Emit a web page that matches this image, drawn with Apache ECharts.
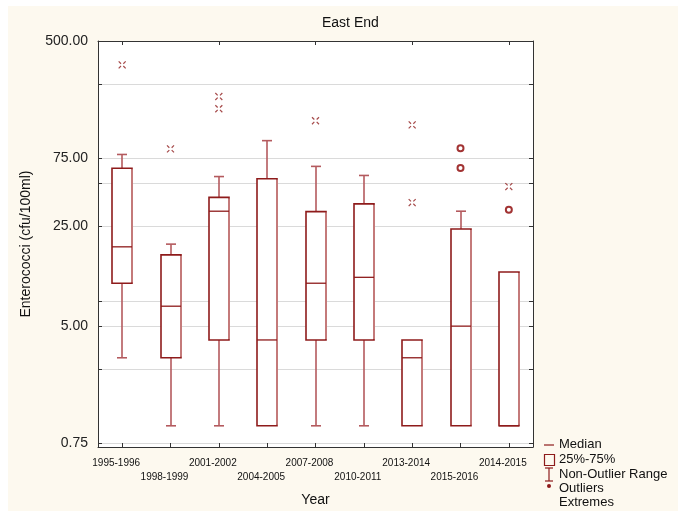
<!DOCTYPE html>
<html>
<head>
<meta charset="utf-8">
<script src="https://cdn.jsdelivr.net/npm/echarts@6/dist/echarts.min.js"></script>
<style>
html,body{margin:0;padding:0;background:#fff;}
#chart{width:678px;height:511px;}
</style>
</head>
<body>
<div id="chart"></div>
<script>
// ---- data ----
var categories = ['1995-1996','1998-1999','2001-2002','2004-2005','2007-2008','2010-2011','2013-2014','2015-2016','2014-2015'];
// [non-outlier min, 25%, median, 75%, non-outlier max]
var boxMin    = [3.0, 1,   1,  1,   1,    1,  1, 1,  1];
var boxQ1     = [10,  3.0, 4,  1,   4,    4,  1, 1,  1];
var boxMedian = [18,  6.9, 32, 4,   10,   11, 3, 5,  1];
var boxQ3     = [64,  15.8,40, 54,  31.8, 36, 4, 24, 12];
var boxMax    = [80,  18.8,56, 100, 66,   57, 4, 32, 12];
// extremes: [category index, value]
var extremeCat = [0,   1,    2,   2,     4,   6,   6,    8];
var extremeVal = [340, 87.5, 204, 167.5, 138, 129, 36.8, 47.6];
// outliers
var outlierCat = [7,    7,    8];
var outlierVal = [88.5, 64.4, 32.7];
var yLabelValues = [0.75, 5, 25, 75, 500];
var yTickValues = [0.75, 2.5, 5, 7.5, 25, 50, 75, 250, 500];
var legendLabels = ['Median', '25%-75%', 'Non-Outlier Range', 'Outliers', 'Extremes'];

var DARK = '#8e1b1b';
var LIGHT = '#c47a7a';
var WHISK = '#b45a5e';
var boxData = categories.map(function (c, i) {
  return [i, boxMin[i], boxQ1[i], boxMedian[i], boxQ3[i], boxMax[i]];
});
var extremeData = extremeCat.map(function (c, i) { return [c, extremeVal[i]]; });
var outlierData = outlierCat.map(function (c, i) { return [c, outlierVal[i]]; });

var FONT = '"Liberation Sans", Arial, sans-serif';

function renderBox(params, api) {
  var i = api.value(0);
  var pMin = api.coord([i, api.value(1)]);
  var pQ1 = api.coord([i, api.value(2)]);
  var pMed = api.coord([i, api.value(3)]);
  var pQ3 = api.coord([i, api.value(4)]);
  var pMax = api.coord([i, api.value(5)]);
  var cx = Math.round(pQ1[0]);
  var hw = 10, cw = 5;
  var ch = [];
  var lw = 1.6;
  if (pMax[1] < pQ3[1] - 0.5) {
    ch.push({type:'line', shape:{x1:cx, y1:pQ3[1], x2:cx, y2:pMax[1]}, style:{stroke:WHISK, lineWidth:lw}});
    ch.push({type:'line', shape:{x1:cx-cw, y1:pMax[1], x2:cx+cw, y2:pMax[1]}, style:{stroke:WHISK, lineWidth:lw}});
  }
  if (pMin[1] > pQ1[1] + 0.5) {
    ch.push({type:'line', shape:{x1:cx, y1:pQ1[1], x2:cx, y2:pMin[1]}, style:{stroke:WHISK, lineWidth:lw}});
    ch.push({type:'line', shape:{x1:cx-cw, y1:pMin[1], x2:cx+cw, y2:pMin[1]}, style:{stroke:WHISK, lineWidth:lw}});
  }
  ch.push({type:'rect', shape:{x:cx-hw, y:pQ3[1], width:2*hw, height:pQ1[1]-pQ3[1]}, style:{fill:'#fff', stroke:DARK, lineWidth:lw}});
  ch.push({type:'line', shape:{x1:cx+hw, y1:pQ3[1]+1, x2:cx+hw, y2:pQ1[1]-1}, style:{stroke:LIGHT, lineWidth:lw+0.4}});
  ch.push({type:'line', shape:{x1:cx-hw, y1:pMed[1], x2:cx+hw, y2:pMed[1]}, style:{stroke:DARK, lineWidth:1.3}});
  return {type:'group', children: ch};
}

var legendY = [444, 459, 474, 488, 502];
var graphics = [
  {type:'rect', silent:true, z:-1, shape:{x:0,y:0,width:8,height:511}, style:{fill:'#fff'}},
  {type:'rect', silent:true, z:-1, shape:{x:0,y:0,width:678,height:6}, style:{fill:'#fff'}},
  {type:'line', shape:{x1:544,y1:445,x2:554,y2:445}, style:{stroke:DARK, lineWidth:1.2}},
  {type:'rect', shape:{x:544.5,y:454.5,width:10,height:11}, style:{fill:'none', stroke:DARK, lineWidth:1.2}},
  {type:'line', shape:{x1:549,y1:468,x2:549,y2:481}, style:{stroke:DARK, lineWidth:1.2}},
  {type:'line', shape:{x1:545,y1:468,x2:553,y2:468}, style:{stroke:DARK, lineWidth:1.2}},
  {type:'line', shape:{x1:545,y1:481,x2:553,y2:481}, style:{stroke:DARK, lineWidth:1.2}},
  {type:'circle', shape:{cx:549,cy:486,r:2}, style:{fill:DARK}}
];
legendLabels.forEach(function (t, i) {
  graphics.push({type:'text', x:559, y:legendY[i], style:{text:t, font:'13px ' + FONT, fill:'#111', verticalAlign:'middle', align:'left'}});
});

var chart = echarts.init(document.getElementById('chart'));
chart.setOption({
  backgroundColor: '#fdf9ef',
  animation: false,
  title: {
    text: 'East End', left: 322, top: 16, padding: 0,
    textStyle: {fontFamily: FONT, fontSize: 14, fontWeight: 'normal', color: '#111'}
  },
  graphic: graphics,
  grid: {left: 98, right: 145, top: 41, bottom: 64, show: true, backgroundColor: '#fff', borderWidth: 0,
    containLabel: false, outerBoundsMode: 'none'},
  xAxis: [{
    type: 'category', data: categories, boundaryGap: true,
    name: 'Year', nameLocation: 'middle', nameGap: 46,
    nameTextStyle: {fontFamily: FONT, fontSize: 14, color: '#111'},
    axisLine: {show: true, lineStyle: {color: '#333', width: 1}},
    axisTick: {show: true, inside: true, alignWithLabel: true, length: 4, lineStyle: {color: '#333'}},
    axisLabel: {
      interval: 0, fontFamily: FONT, fontSize: 10, color: '#111', margin: 9, lineHeight: 14,
      padding: [0, 12, 0, 0],
      formatter: function (v, i) { return i % 2 ? '\n' + v : v; }
    },
    splitLine: {show: false}
  }, {
    type: 'category', data: categories, position: 'top', boundaryGap: true,
    axisLine: {show: true, lineStyle: {color: '#333', width: 1}},
    axisTick: {show: true, inside: true, alignWithLabel: true, length: 4, lineStyle: {color: '#333'}},
    axisLabel: {show: false}, splitLine: {show: false}
  }],
  yAxis: [{
    type: 'log', logBase: 10, min: 0.71, max: 500,
    name: 'Enterococci (cfu/100ml)', nameLocation: 'middle', nameGap: 65,
    nameTextStyle: {fontFamily: FONT, fontSize: 14, color: '#111'},
    axisLine: {show: true, lineStyle: {color: '#333', width: 1}},
    axisTick: {show: true, inside: true, length: 4, customValues: yTickValues, lineStyle: {color: '#333'}},
    axisLabel: {customValues: yLabelValues, fontFamily: FONT, fontSize: 14, color: '#222', margin: 10,
      formatter: function (v) { return Number(v).toFixed(2); }},
    splitLine: {show: true, lineStyle: {color: '#dadada', width: 1}}
  }, {
    type: 'log', logBase: 10, min: 0.71, max: 500, position: 'right',
    axisLine: {show: true, lineStyle: {color: '#333', width: 1}},
    axisTick: {show: true, inside: true, length: 4, customValues: yTickValues, lineStyle: {color: '#333'}},
    axisLabel: {show: false}, splitLine: {show: false}
  }],
  series: [{
    type: 'custom', data: boxData, renderItem: renderBox,
    encode: {x: 0, y: [1, 2, 3, 4, 5]},
    silent: true
  }, {
    type: 'scatter', data: extremeData, symbolSize: 7,
    symbol: 'path://M0,0L2,2M6,0L4,2M0,6L2,4M6,6L4,4',
    itemStyle: {color: 'none', borderColor: DARK, borderWidth: 1.2}
  }, {
    type: 'scatter', data: outlierData, symbol: 'circle', symbolSize: 6,
    itemStyle: {color: '#fff', borderColor: '#8b0000', borderWidth: 2}
  }]
});
</script>
</body>
</html>
